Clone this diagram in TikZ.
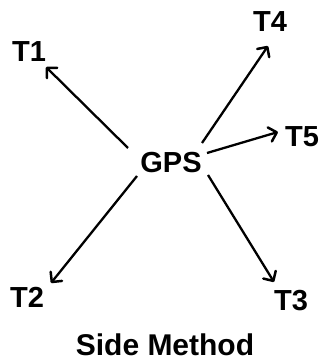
\documentclass[tikz,border=0pt]{standalone}
\usepackage{fontspec}
\setmainfont{Liberation Sans}
\usetikzlibrary{arrows.meta}
\begin{document}
\begin{tikzpicture}[x=1pt,y=1pt,
  lbl/.style={inner sep=0pt, font=\fontsize{29}{29}\selectfont\bfseries},
  arr/.style={line width=2.3pt, -{Straight Barb[angle=90:8pt 1, line width=2.5pt, round]}}]
\useasboundingbox (0,0) rectangle (320,362);
\fill[white] (0,0) rectangle (320,362);
\node[lbl] (GPS) at (171,199) {GPS};
\node[lbl] (T1) at (29,310) {T1};
\node[lbl] (T4) at (270,340) {T4};
\node[lbl] (T5) at (302,225) {T5};
\node[lbl] (T2) at (27,65) {T2};
\node[lbl] (T3) at (291,61) {T3};
\node[lbl, font=\fontsize{30}{30}\selectfont\bfseries] (title) at (165,17) {Side Method};
\coordinate (s1) at (128,214); \coordinate (e1) at (46,295);
\coordinate (s4) at (202,219); \coordinate (e4) at (268,316);
\coordinate (s5) at (207,209); \coordinate (e5) at (278,230);
\coordinate (s2) at (137,186); \coordinate (e2) at (51,79);
\coordinate (s3) at (208,187); \coordinate (e3) at (274,80);
\draw[arr] (s1) -- (e1);
\draw[arr] (s4) -- (e4);
\draw[arr] (s5) -- (e5);
\draw[arr] (s2) -- (e2);
\draw[arr] (s3) -- (e3);
\end{tikzpicture}
\end{document}
